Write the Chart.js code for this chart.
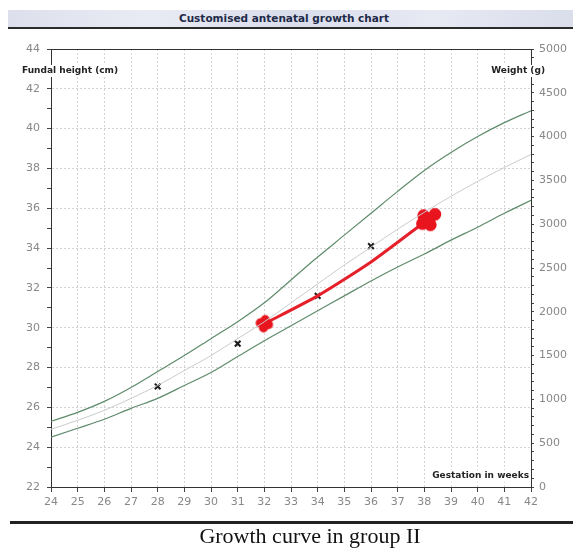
<!DOCTYPE html>
<html>
<head>
<meta charset="utf-8">
<script src="https://cdn.jsdelivr.net/npm/chart.js@4.4.1/dist/chart.umd.min.js"></script>
<style>
  html, body { margin: 0; padding: 0; background: #fff; }
  #wrap { position: relative; width: 573px; height: 548px; overflow: hidden; }
  #chart { position: absolute; left: 0; top: 0; }
  #banner {
    position: absolute; left: 8px; top: 10px; width: 565px; height: 17px;
    background: linear-gradient(90deg, #dde0ec, #e9ebf4 25%, #d9ddea 50%, #e7e9f3 75%, #dadeeb);
    border-bottom: 2px solid #2b2b2b;
  }
  #banner span {
    position: absolute; left: 0; width: 552px; top: 2px; text-align: center;
    font: bold 10.5px "DejaVu Sans", sans-serif; color: #1e2a48;
  }
  #rule { position: absolute; left: 10px; top: 521px; width: 563px; height: 3px; background: #222; }
  #caption {
    position: absolute; left: 0; width: 620px; top: 523px; text-align: center;
    font: 22px "Liberation Serif", "Times New Roman", serif; color: #111;
  }
</style>
</head>
<body>
<div id="wrap">
  <canvas id="chart" width="573" height="548"></canvas>
  <div id="banner"><span>Customised antenatal growth chart</span></div>
  <div id="rule"></div>
  <div id="caption">Growth curve in group II</div>
</div>
<script>
'use strict';

// ── Data ───────────────────────────────────────────────────────────────────
var weeks   = [24, 25, 26, 27, 28, 29, 30, 31, 32, 33, 34, 35, 36, 37, 38, 39, 40, 41, 42];
var upper90 = [25.3, 25.75, 26.3, 27.0, 27.8, 28.6, 29.45, 30.3, 31.25, 32.4, 33.55, 34.65, 35.75, 36.85, 37.9, 38.8, 39.6, 40.3, 40.9];
var median  = [24.9, 25.35, 25.85, 26.45, 27.1, 27.85, 28.6, 29.45, 30.3, 31.25, 32.2, 33.15, 34.05, 34.95, 35.8, 36.6, 37.35, 38.05, 38.7];
var lower10 = [24.5, 24.95, 25.4, 25.95, 26.45, 27.1, 27.75, 28.55, 29.35, 30.1, 30.85, 31.6, 32.35, 33.05, 33.7, 34.4, 35.05, 35.75, 36.4];

var measuredWeeks  = [28, 31, 34, 36];
var measuredHeight = [27.05, 29.2, 31.6, 34.1];

var scanWeeks  = [32, 34, 36, 38.1];
var scanHeight = [30.2, 31.6, 33.3, 35.4];

var yTicksLeft  = { min: 22, max: 44, label: 2 };
var yTicksRight = { min: 0, max: 5000, label: 500 };
var xTicks      = { min: 24, max: 42 };

function pts(xs, ys) {
  return xs.map(function (x, i) { return { x: x, y: ys[i] }; });
}

// ── Red blob marker (four rounded arms, one solid fill) ────────────────────
function makeBlob(size, angle, stretch) {
  var c = document.createElement('canvas');
  c.width = c.height = size;
  var g = c.getContext('2d');
  var m = size / 2, r = size * 0.21, d = size * 0.19;
  g.fillStyle = '#e8141e';
  g.beginPath();
  g.arc(m, m, r * 1.25, 0, Math.PI * 2);
  for (var k = 0; k < 4; k++) {
    var a = angle + k * Math.PI / 2;
    var dd = (k === 0 && stretch) ? d * 1.75 : d;
    var cx = m + Math.cos(a) * dd, cy = m + Math.sin(a) * dd;
    g.moveTo(cx + r, cy);
    g.arc(cx, cy, r, 0, Math.PI * 2);
  }
  g.fill('nonzero');
  return c;
}
var blobStart = makeBlob(22, 0.2, false);
var blobEnd   = makeBlob(30, -Math.PI / 4 + 0.15, true);

// ── Top frame line and axis titles ─────────────────────────────────────────
var axisTitles = {
  id: 'axisTitles',
  afterDraw: function (chart) {
    var ctx = chart.ctx, a = chart.chartArea;
    ctx.save();
    ctx.strokeStyle = '#333';
    ctx.lineWidth = 1;
    ctx.beginPath();
    ctx.moveTo(a.left, a.top + 0.5);
    ctx.lineTo(a.right, a.top + 0.5);
    ctx.stroke();

    ctx.font = 'bold 9px "DejaVu Sans", sans-serif';
    ctx.textBaseline = 'middle';
    ctx.textAlign = 'left';
    var items = [
      { t: 'Fundal height (cm)', x: 22, y: a.top + 22, align: 'left' },
      { t: 'Weight (g)', x: a.right + 14, y: a.top + 22, align: 'right' },
      { t: 'Gestation in weeks', x: a.right - 2, y: a.bottom - 11, align: 'right' }
    ];
    items.forEach(function (it) {
      var w = ctx.measureText(it.t).width;
      var x0 = it.align === 'left' ? it.x : it.x - w;
      ctx.fillStyle = '#fff';
      ctx.fillRect(x0 - 1, it.y - 6, w + 2, 12);
      ctx.fillStyle = '#222';
      ctx.fillText(it.t, x0, it.y);
    });
    ctx.restore();
  }
};

var tickFont = { family: '"DejaVu Sans", sans-serif', size: 11 };
var dotted = 'rgba(170,170,170,0.5)';

new Chart(document.getElementById('chart').getContext('2d'), {
  type: 'line',
  data: {
    datasets: [
      { data: pts(weeks, upper90), borderColor: '#5e8b6c', borderWidth: 1.2, pointRadius: 0, tension: 0.4, cubicInterpolationMode: 'monotone', fill: false },
      { data: pts(weeks, median),  borderColor: '#c9cccc', borderWidth: 1,   pointRadius: 0, tension: 0.4, cubicInterpolationMode: 'monotone', fill: false },
      { data: pts(weeks, lower10), borderColor: '#5e8b6c', borderWidth: 1.2, pointRadius: 0, tension: 0.4, cubicInterpolationMode: 'monotone', fill: false },
      {
        data: pts(scanWeeks, scanHeight),
        borderColor: '#e5202a', borderWidth: 3, tension: 0.2, fill: false,
        pointStyle: [blobStart, false, false, blobEnd],
        pointRadius: [10, 0, 0, 12]
      },
      {
        data: pts(measuredWeeks, measuredHeight),
        showLine: false, pointStyle: 'crossRot', pointRadius: 4,
        borderColor: '#1a1a1a', borderWidth: 2
      }
    ]
  },
  options: {
    responsive: false,
    animation: false,
    events: [],
    layout: { padding: { top: 49, left: 0, right: 0, bottom: 0 } },
    plugins: { legend: { display: false }, tooltip: { enabled: false } },
    scales: {
      x: {
        type: 'linear', min: xTicks.min, max: xTicks.max,
        afterFit: function (s) { s.height = 61; },
        ticks: { stepSize: 1, color: '#888', font: tickFont, padding: 4, maxRotation: 0 },
        grid: { color: dotted, tickColor: '#444', tickLength: 5 },
        border: { color: '#333', width: 1, dash: [2, 2] }
      },
      y: {
        position: 'left', min: yTicksLeft.min, max: yTicksLeft.max,
        afterFit: function (s) { s.width = 51; },
        ticks: {
          stepSize: 1, color: '#888', font: tickFont, padding: 7,
          callback: function (v) { return v % yTicksLeft.label === 0 ? v : ''; }
        },
        grid: {
          color: function (c) { return c.tick && c.tick.value % 2 === 0 ? dotted : 'rgba(0,0,0,0)'; },
          tickColor: '#444', tickLength: 4
        },
        border: { color: '#333', width: 1, dash: [2, 2] }
      },
      y2: {
        position: 'right', min: yTicksRight.min, max: yTicksRight.max,
        afterFit: function (s) { s.width = 42; },
        ticks: {
          stepSize: 100, color: '#888', font: tickFont, padding: 5, autoSkip: false,
          callback: function (v) { return v % yTicksRight.label === 0 ? v : ''; }
        },
        grid: { drawOnChartArea: false, tickColor: '#444', tickLength: 3 },
        border: { color: '#333', width: 1 }
      }
    }
  },
  plugins: [axisTitles]
});
</script>
</body>
</html>
